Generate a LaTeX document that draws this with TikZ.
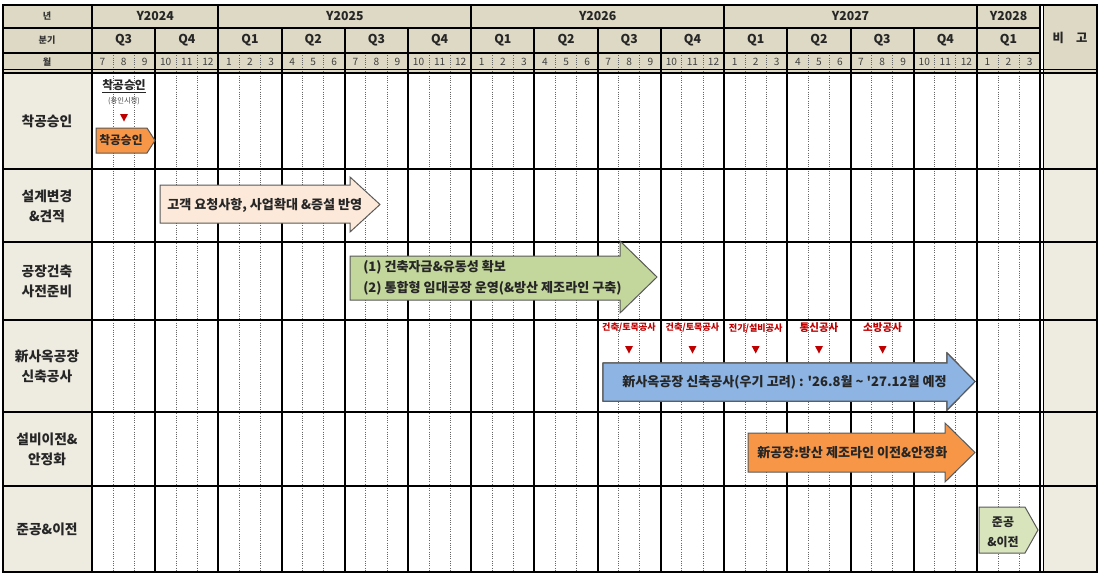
\documentclass[tikz,border=0pt]{standalone}
\usepackage{fontspec}
\setmainfont{Noto Sans CJK KR}
\usepackage{tikz}

\definecolor{hdr}{RGB}{221,217,196}
\definecolor{lab}{RGB}{238,236,225}
\definecolor{orng}{RGB}{247,150,70}
\definecolor{peach}{RGB}{253,233,217}
\definecolor{olive}{RGB}{195,214,155}
\definecolor{skyb}{RGB}{141,180,226}
\definecolor{pale}{RGB}{215,228,188}
\definecolor{dred}{RGB}{192,0,0}

% bar with arrow head: fill, left, head start, tip, top, bottom, head top, head bottom
\newcommand{\bararrow}[8]{%
  \draw[arrline, fill=#1] (#2,#5) -- (#3,#5) -- (#3,#7) -- (#4,{(#7+#8)/2})
    -- (#3,#8) -- (#3,#6) -- (#2,#6) -- cycle;}
% small red marker
\newcommand{\redmark}[2]{\fill[dred] ({#1-4},{#2-4}) -- ({#1+4},{#2-4}) -- (#1,{#2+3.5}) -- cycle;}

\begin{document}
\begin{tikzpicture}[x=0.75pt, y=-0.75pt,
  hdrtxt/.style={font=\fontsize{9.2}{10}\selectfont\bfseries, text=black!85},
  smtxt/.style={font=\fontsize{6.8}{7}\selectfont\bfseries, text=black!80},
  mtxt/.style={font=\fontsize{7.6}{8}\selectfont, text=black!75},
  rowtxt/.style={font=\fontsize{10.3}{15}\selectfont\bfseries, align=center, text=black!85},
  bartxt/.style={font=\fontsize{9.8}{16}\selectfont\bfseries, align=left, anchor=west, inner sep=0pt, text=black!85},
  redtxt/.style={font=\fontsize{6.8}{7}\selectfont\bfseries, text=dred},
  arrline/.style={draw=black!65, line width=0.75pt},
  monthline/.style={densely dotted, black!60, line width=0.7pt},
  qline/.style={black, line width=1.5pt},
  rowline/.style={black, line width=0.9pt}]
\useasboundingbox (0,0) rectangle (1101,575);

% backgrounds
\fill[hdr] (3,5) rectangle (1040,72);
\fill[hdr] (1043,5) rectangle (1097,72);
\fill[lab] (3,72) rectangle (92,572);
\fill[lab] (1043,72) rectangle (1097,572);

% month lines
\foreach \q in {0,...,14}
  \foreach \k in {1,2}
    \draw[monthline] ({92+21.07*(3*\q+\k)},53) -- ({92+21.07*(3*\q+\k)},572);
% quarter and year lines
\foreach \m in {3,9,12,15,21,24,27,33,36,39}
  \draw[qline] ({92+21.07*\m},28) -- ({92+21.07*\m},572);
\foreach \m in {6,18,30,42}
  \draw[qline] ({92+21.07*\m},5) -- ({92+21.07*\m},572);
\draw[qline] (92,5) -- (92,572);
\draw[rowline] (1040,5) -- (1040,572);
\draw[rowline] (1043.5,5) -- (1043.5,572);

% rows
\draw[qline] (3,28) -- (1040,28);
\draw[qline] (3,53) -- (1040,53);
\draw[rowline] (3,69.5) -- (1097,69.5);
\draw[qline] (3,72.5) -- (1097,72.5);
\foreach \y in {169,242,320,412,486}
  \draw[rowline] (3,\y) -- (1097,\y);
\draw[black, line width=2.2pt] (3,5) rectangle (1097,572);

% header
\node[smtxt] (hy) at (47,16) {년};
\node[smtxt] (hq) at (47,40) {분기};
\node[smtxt] (hm) at (47,62) {월};
\foreach \yr/\c in {2024/3,2025/12,2026/24,2027/36,2028/43.5}
  \node[hdrtxt] (y\yr) at ({92+21.07*\c},16) {Y\yr};
\foreach \lab [count=\i from 0] in {Q3,Q4,Q1,Q2,Q3,Q4,Q1,Q2,Q3,Q4,Q1,Q2,Q3,Q4,Q1}
  \node[hdrtxt] (q\i) at ({92+21.07*(3*\i+1.5)},40) {\lab};
\foreach \i in {0,...,44}{
  \pgfmathtruncatemacro\mn{mod(\i+6,12)+1}
  \node[mtxt] (m\i) at ({92+21.07*(\i+0.5)},62) {\mn};}
\node[hdrtxt] (note) at (1070,38) {비\hspace{9pt}고};

% row titles
\node[rowtxt] (r1) at (47,121) {착공승인};
\node[rowtxt] (r2) at (47,206) {설계변경\\\&견적};
\node[rowtxt] (r3) at (47,281) {공장건축\\사전준비};
\node[rowtxt] (r4) at (47,366) {新사옥공장\\신축공사};
\node[rowtxt] (r5) at (47,449) {설비이전\&\\안정화};
\node[rowtxt] (r6) at (47,529) {준공\&이전};

% approval
\node[font=\fontsize{8.8}{9}\selectfont\bfseries, text=black!85] (k1) at (124,86) {\underline{착공승인}};
\node[font=\fontsize{5.5}{6}\selectfont, text=black!75] (k2) at (124,101) {(용인시청)};
\redmark{124}{118}
\bararrow{orng}{96}{147}{155}{128}{153}{128}{153}
\node[font=\fontsize{8.8}{9}\selectfont\bfseries, text=black!85] (t0) at (121,140.5) {착공승인};

% bars
\bararrow{peach}{160}{350}{380}{185}{223}{177}{232}
\node[bartxt] (t1) at (167,205) {고객 요청사항, 사업확대 \&증설 반영};

\bararrow{olive}{350}{620}{657}{256}{300}{241}{313}
\node[bartxt] (t2) at (363,278) {(1) 건축자금\&유동성 확보\\(2) 통합형 임대공장 운영(\&방산 제조라인 구축)};

\node[redtxt] (w1) at (629,328) {건축/토목공사};
\node[redtxt] (w2) at (692.5,328) {건축/토목공사};
\node[redtxt] (w3) at (755.7,328) {전기/설비공사};
\node[redtxt, font=\fontsize{7.9}{8}\selectfont\bfseries] (w4) at (819,328) {통신공사};
\node[redtxt, font=\fontsize{7.9}{8}\selectfont\bfseries] (w5) at (882.6,328) {소방공사};
\foreach \x in {629,692.5,755.7,819,882.6}
  \redmark{\x}{350}
\bararrow{skyb}{603}{947}{975}{363}{401}{353}{410}
\node[bartxt] (t3) at (622,382) {新사옥공장 신축공사(우기 고려) : \textquotesingle 26.8월 \textasciitilde{} \textquotesingle 27.12월 예정};

\bararrow{orng}{748}{945}{975}{433}{472}{423}{482}
\node[bartxt] (t4) at (757,453) {新공장:방산 제조라인 이전\&안정화};

\bararrow{pale}{979}{1025}{1038}{507}{553}{507}{553}
\node[bartxt, align=center, anchor=center, font=\fontsize{9}{15}\selectfont\bfseries] (t5) at (1003,532) {준공\\\&이전};

\end{tikzpicture}
\end{document}
